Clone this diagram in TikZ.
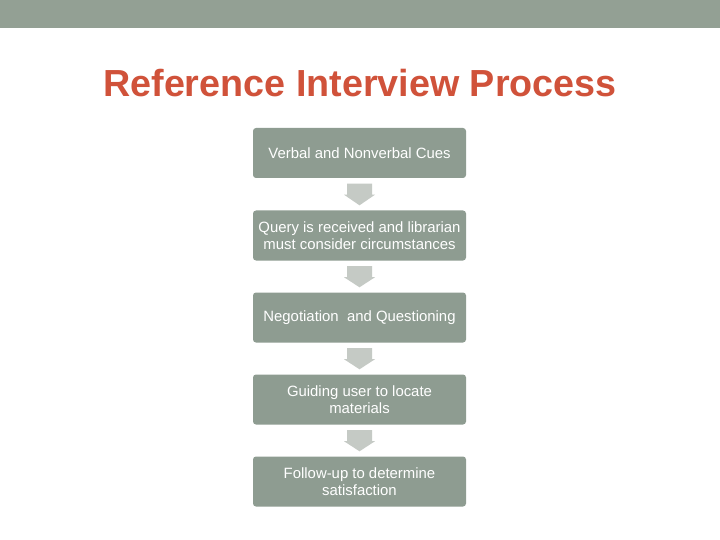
\documentclass[tikz,border=0pt]{standalone}
\usepackage{fontspec}
\setmainfont{Liberation Sans}
\usetikzlibrary{calc}
\definecolor{barcol}{RGB}{147,160,148}
\definecolor{boxcol}{RGB}{142,156,145}
\definecolor{arrcol}{RGB}{197,202,197}
\definecolor{titlecol}{RGB}{208,82,58}
\tikzset{
  stepbox/.style={fill=boxcol, rounded corners=3pt, minimum width=213pt, minimum height=50pt,
    inner sep=0pt, align=center, text=white, font=\fontsize{14.9}{16.5}\selectfont},
  blockarrow/.style={fill=arrcol, draw=none}
}
\newcommand{\blockarr}[2]{%
  \fill[blockarrow] ($(#1.south)+(-12.5,5.5)$) -- ($(#1.south)+(12.5,5.5)$) -- ($(#1.south)+(12.5,16.5)$)
    -- ($(#1.south)+(15.5,16.5)$) -- ($(#2.north)+(0,-5)$) -- ($(#1.south)+(-15.5,16.5)$)
    -- ($(#1.south)+(-12.5,16.5)$) -- cycle;}
\begin{document}
\begin{tikzpicture}[x=1pt,y=-1pt]
\useasboundingbox (0,0) rectangle (720,540);
\fill[white] (0,0) rectangle (720,540);
\fill[barcol] (0,0) rectangle (720,28.5);
\node[text=titlecol, font=\fontsize{37.7}{40}\selectfont\bfseries, anchor=base] (title) at (360,97) {Reference Interview Process};
\node[stepbox] (s1) at (359.5,153) {Verbal and Nonverbal Cues};
\node[stepbox] (s2) at (359.5,235.5) {Query is received and librarian\\must consider circumstances};
\node[stepbox] (s3) at (359.5,317.5) {Negotiation\ \ and Questioning};
\node[stepbox] (s4) at (359.5,399.5) {Guiding user to locate\\materials};
\node[stepbox] (s5) at (359.5,481.5) {Follow-up to determine\\satisfaction};
\blockarr{s1}{s2}
\blockarr{s2}{s3}
\blockarr{s3}{s4}
\blockarr{s4}{s5}
\end{tikzpicture}
\end{document}
